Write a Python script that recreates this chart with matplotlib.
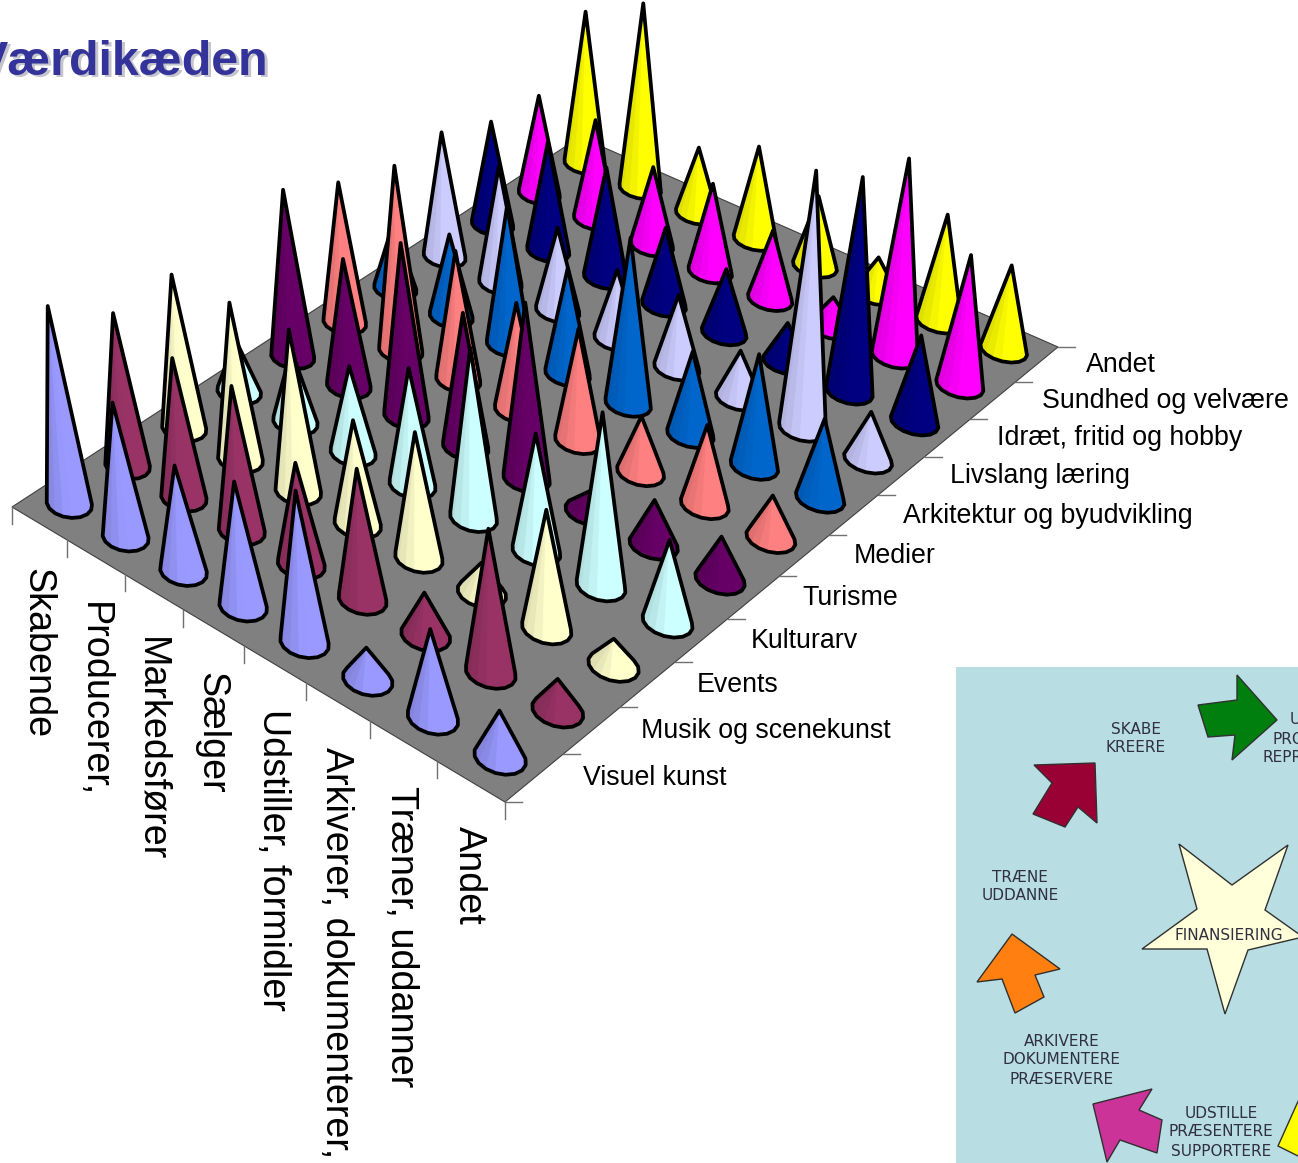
import matplotlib
matplotlib.use("Agg")
import matplotlib.pyplot as plt
from matplotlib.colors import to_rgb
from matplotlib.patches import Polygon, Rectangle
import numpy as np

roles = ["Skabende", "Producerer,", "Markedsfører", "Sælger", "Udstiller, formidler",
         "Arkiverer, dokumenterer,", "Træner, uddanner", "Andet"]
fields = ["Visuel kunst", "Musik og scenekunst", "Events", "Kulturarv", "Turisme", "Medier",
          "Arkitektur og byudvikling", "Livslang læring", "Idræt, fritid og hobby",
          "Sundhed og velvære", "Andet"]

visuel_kunst = [199, 135, 106, 125, 152, 32, 89, 47]
musik = [153, 140, 145, 102, 131, 43, 144, 32]
events = [154, 157, 162, 104, 126, 30, 119, 27]
kulturarv = [52, 72, 87, 117, 170, 118, 174, 82]
turisme = [167, 127, 173, 134, 176, 20, 45, 43]
medier = [140, 185, 129, 107, 112, 56, 80, 43]
arkitektur = [65, 82, 139, 106, 166, 83, 112, 80]
livslang = [124, 117, 83, 69, 73, 47, 258, 48]
idraet = [103, 109, 110, 77, 64, 39, 215, 87]
sundhed = [98, 99, 78, 88, 69, 30, 198, 131]
andet = [152, 185, 66, 93, 70, 36, 107, 85]

series = [visuel_kunst, musik, events, kulturarv, turisme, medier,
          arkitektur, livslang, idraet, sundhed, andet]
colors = ["#9999FF", "#993366", "#FFFFCC", "#CCFFFF", "#660066", "#FF8080",
          "#0066CC", "#CCCCFF", "#000080", "#FF00FF", "#FFFF00"]

# floor plane, perspective from the unit square to figure pixels
left, front, right, back = (12, 507), (505, 802), (1058, 347), (580, 137)
dx1, dx2, sx = front[0] - right[0], back[0] - right[0], left[0] - front[0] + right[0] - back[0]
dy1, dy2, sy = front[1] - right[1], back[1] - right[1], left[1] - front[1] + right[1] - back[1]
den = dx1 * dy2 - dx2 * dy1
g = (sx * dy2 - dx2 * sy) / den
h = (dx1 * sy - sx * dy1) / den
n_i, n_j = len(roles), len(fields)


def floor(i, j):
    u, v = np.asarray(i, float) / n_i, np.asarray(j, float) / n_j
    w = g * u + h * v + 1
    x = ((front[0] - left[0] + g * front[0]) * u + (back[0] - left[0] + h * back[0]) * v + left[0]) / w
    y = ((front[1] - left[1] + g * front[1]) * u + (back[1] - left[1] + h * back[1]) * v + left[1]) / w
    return np.stack([x, y], axis=-1)


def hull(points):
    pts = sorted(map(tuple, points))
    def half(seq):
        out = []
        for p in seq:
            while len(out) > 1 and ((out[-1][0] - out[-2][0]) * (p[1] - out[-2][1])
                                    - (out[-1][1] - out[-2][1]) * (p[0] - out[-2][0])) <= 0:
                out.pop()
            out.append(p)
        return out[:-1]
    return half(pts) + half(pts[::-1])


def cone(ax, i, j, height, color):
    t = np.linspace(0, 2 * np.pi, 17)[:-1]
    base = floor(i + 0.5 + 0.32 * np.cos(t), j + 0.5 + 0.24 * np.sin(t))
    centre = floor(i + 0.5, j + 0.5)
    # verticals converge on a point far below the floor
    up = centre - np.array([560.0, 5000.0])
    tip = centre + height * up / np.linalg.norm(up)
    rgb = np.array(to_rgb(color))
    ax.add_patch(Polygon(hull(np.vstack([base, tip])), closed=True, fc=color, ec="none", zorder=3))
    half_width = (base[:, 0].max() - base[:, 0].min()) / 2
    edges = sorted(range(16), key=lambda k: base[k, 1] + base[(k + 1) % 16, 1])
    for k in edges:
        a, b = base[k], base[(k + 1) % 16]
        s = ((a[0] + b[0]) / 2 - centre[0]) / half_width
        shade = 0.86 + 0.14 * np.clip(s + 1, 0, 1)
        c = rgb * shade
        ax.add_patch(Polygon([tip, a, b], closed=True, fc=c, ec=c, lw=0.3, zorder=3))
    ax.add_patch(Polygon(hull(np.vstack([base, tip])), closed=True, fc="none", ec="black",
                         lw=2.7, joinstyle="round", zorder=3))


fig = plt.figure(figsize=(12.98, 11.63), dpi=100)
ax = fig.add_axes([0, 0, 1, 1])
ax.set_xlim(0, 1298)
ax.set_ylim(1163, 0)
ax.axis("off")
plt.rcParams["font.family"] = ["Liberation Sans", "DejaVu Sans"]

ax.add_patch(Polygon([left, front, right, back], closed=True, fc="#808080", ec="#404040", lw=0.8, zorder=1))

# tick marks on the two front edges
for i in range(n_i + 1):
    p = floor(i, 0)
    ax.plot([p[0], p[0]], [p[1], p[1] + 17], color="#707070", lw=1, zorder=1)
for j in range(n_j + 1):
    p = floor(n_i, j)
    ax.plot([p[0], p[0] + 17], [p[1], p[1]], color="#707070", lw=1, zorder=1)

for i, label in enumerate(roles):
    p = floor(i + 0.5, 0)
    ax.text(p[0] - 2, p[1] + 45, label, rotation=270, ha="center", va="top", fontsize=27.2, color="black")
for j, label in enumerate(fields):
    p = floor(n_i, j + 0.5)
    ax.text(p[0] + 49, p[1] + 0.5, label, ha="left", va="center", fontsize=19.3, color="black")

# back rows first so nearer cones cover the ones behind
for j in range(n_j - 1, -1, -1):
    for i in range(n_i):
        cone(ax, i, j, series[j][i], colors[j])

# heading with drop shadow
ax.text(-21, 77, "Værdikæden", fontsize=34.8, fontweight="bold", color="#C4C4CC", va="baseline", zorder=4)
ax.text(-24, 75, "Værdikæden", fontsize=34.8, fontweight="bold", color="#333399", va="baseline", zorder=4)

# value chain diagram
ax.add_patch(Rectangle((956, 667), 342, 496, fc="#B8DDE3", ec="none", zorder=5))
shapes = [
    ("#007F0E", [(1237, 675), (1277, 720), (1232, 760), (1235, 735), (1208, 737), (1198, 705), (1237, 700)]),
    ("#990033", [(1034, 765), (1095, 763), (1097, 823), (1078, 807), (1065, 827), (1033, 814), (1052, 783)]),
    ("#FF8010", [(1012, 934), (1060, 969), (1035, 975), (1044, 997), (1015, 1013), (1002, 979), (977, 982)]),
    ("#CC3399", [(1093, 1104), (1152, 1089), (1139, 1110), (1162, 1120), (1157, 1153), (1120, 1140), (1107, 1162)]),
    ("#FFFF00", [(1300, 1097), (1278, 1146), (1300, 1157)]),
    ("#FFFFD9", [(1179, 844), (1232, 885), (1288, 845), (1265, 910), (1303, 937), (1248, 950),
                 (1225, 1014), (1207, 949), (1142, 949), (1197, 909)]),
]
for color, pts in shapes:
    ax.add_patch(Polygon(pts, closed=True, fc=color, ec="#303030", lw=1, zorder=6))

captions = [
    (1136, 730, "SKABE"), (1136, 747, "KREERE"), (1020, 877, "TRÆNE"), (1020, 896, "UDDANNE"),
    (1062, 1041, "ARKIVERE"), (1062, 1060, "DOKUMENTERE"), (1062, 1079, "PRÆSERVERE"),
    (1221, 1113, "UDSTILLE"), (1221, 1132, "PRÆSENTERE"), (1221, 1151, "SUPPORTERE"),
    (1229, 935, "FINANSIERING"),
]
for x, y, s in captions:
    ax.text(x, y, s, ha="center", va="center", fontsize=11, family="DejaVu Sans", color="#303040", zorder=7)
for x, y, s in [(1290, 720, "U"), (1273, 739, "PRO"), (1263, 758, "REPR")]:
    ax.text(x, y, s, ha="left", va="center", fontsize=11, family="DejaVu Sans", color="#303040", zorder=7)

fig.savefig("out.png", dpi=100)
